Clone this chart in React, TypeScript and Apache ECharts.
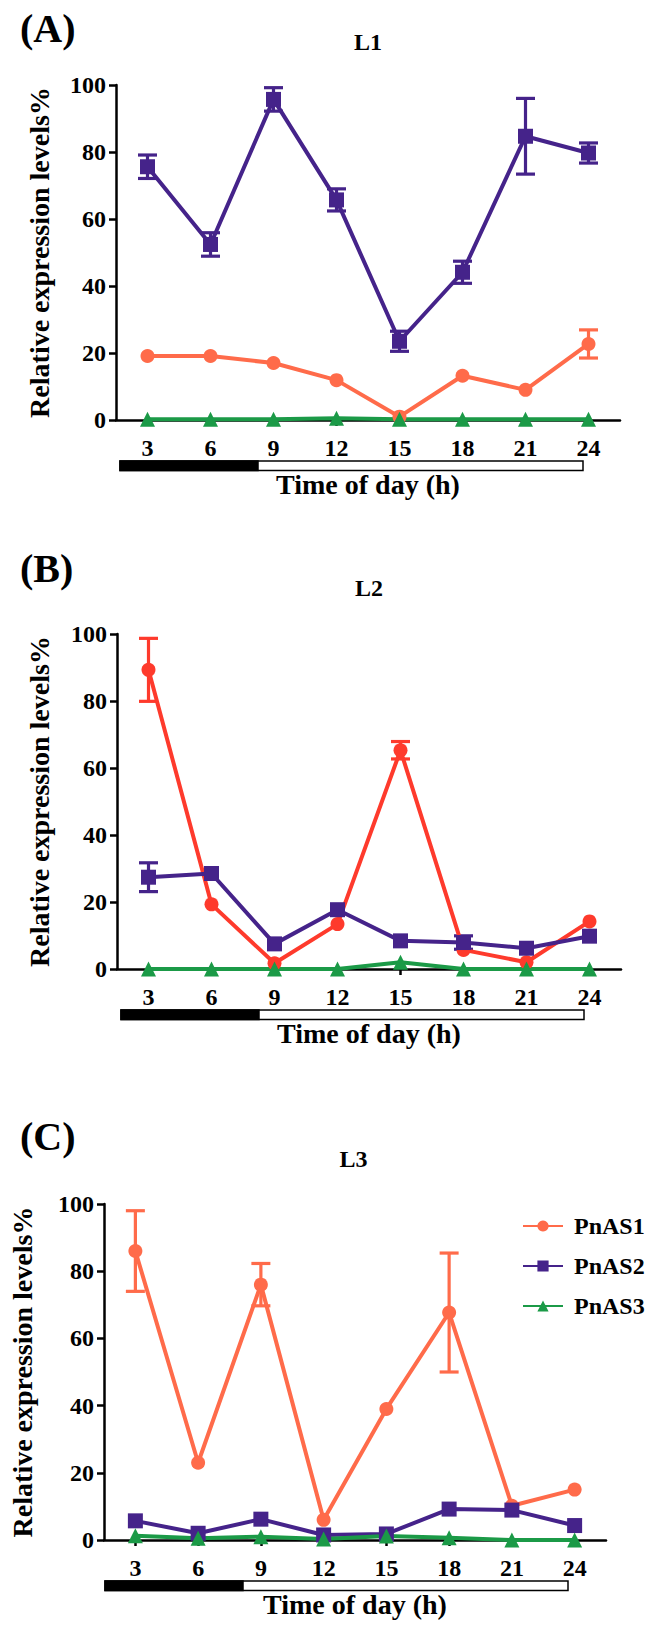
import React, { useEffect, useRef } from "react";
import * as echarts from "echarts";

const hours = ["3", "6", "9", "12", "15", "18", "21", "24"];
const seriesNames = ["PnAS1", "PnAS2", "PnAS3"];
const panelLetters = ["(A)", "(B)", "(C)"];
const panelTitles = ["L1", "L2", "L3"];
const yTitle = "Relative expression levels%";
const xTitle = "Time of day (h)";

// Panel A (L1)
const l1PnAS1 = [19.1, 19.1, 17.0, 11.9, 1.0, 13.2, 9.0, 22.7];
const l1PnAS1Err = [0, 0, 0, 0, 0, 0, 0, 4.2];
const l1PnAS2 = [75.6, 52.4, 95.7, 65.7, 23.5, 44.1, 84.7, 79.7];
const l1PnAS2Err = [3.5, 3.5, 3.5, 3.3, 3.0, 3.3, 11.3, 3.0];
const l1PnAS3 = [0.2, 0.2, 0.2, 0.5, 0.2, 0.2, 0.2, 0.2];

// Panel B (L2)
const l2PnAS1 = [89.3, 19.3, 1.7, 13.4, 65.3, 5.7, 2.0, 14.2];
const l2PnAS1Err = [9.4, 0, 0, 0, 2.6, 0, 0, 0];
const l2PnAS2 = [27.4, 28.5, 7.5, 17.7, 8.4, 7.9, 6.2, 9.8];
const l2PnAS2Err = [4.3, 0, 0, 0, 0, 2.0, 0, 0];
const l2PnAS3 = [0, 0, 0, 0, 2.0, 0, 0, 0];

// Panel C (L3)
const l3PnAS1 = [86.0, 23.0, 76.0, 6.0, 39.0, 67.7, 10.2, 15.0];
const l3PnAS1Err = [12.0, 0, 6.3, 0, 0, 17.7, 0, 0];
const l3PnAS2 = [5.7, 2.0, 6.2, 1.5, 1.8, 9.2, 8.9, 4.3];
const l3PnAS3 = [1.3, 0.5, 1.0, 0.3, 1.2, 0.7, 0, 0];

const FONT = "Times New Roman, Liberation Serif, serif";
const SALMON = "#FF6B4A";
const RED = "#FE3A2C";
const PURPLE = "#45238A";
const GREEN = "#1B9A47";

// layout (pixels)
const grids = [
  { left: 116, top: 85, width: 504, height: 335, yGap: 63 },
  { left: 117, top: 634, width: 504, height: 335, yGap: 64 },
  { left: 101, top: 1204, width: 505, height: 336, yGap: 68 },
];
const letterPos = [
  { x: 20, y: 28 },
  { x: 20, y: 568 },
  { x: 20, y: 1136 },
];
const titleY = [42, 588, 1159];

function lineSeries(name: string, data: number[], color: string, symbol: string, gi: number, size: number) {
  return {
    type: "line",
    name,
    xAxisIndex: gi,
    yAxisIndex: gi,
    data,
    symbol,
    symbolSize: size,
    showAllSymbol: true,
    lineStyle: { color, width: 4 },
    itemStyle: { color },
    z: 4,
  };
}

function errSeries(name: string, means: number[], errs: number[], color: string, gi: number) {
  const data = means.map((m, i) => [i, m, errs[i]]).filter((d) => d[2] > 0);
  return {
    type: "custom",
    name,
    xAxisIndex: gi,
    yAxisIndex: gi,
    data,
    silent: true,
    z: 3,
    encode: { x: 0, y: 1 },
    renderItem: (_p: any, api: any) => {
      const i = api.value(0);
      const m = api.value(1);
      const e = api.value(2);
      const top = api.coord([i, m + e]);
      const bot = api.coord([i, m - e]);
      const half = 9.5;
      const st = { stroke: color, lineWidth: 3.2 };
      return {
        type: "group",
        children: [
          { type: "line", shape: { x1: top[0], y1: top[1], x2: bot[0], y2: bot[1] }, style: st },
          { type: "line", shape: { x1: top[0] - half, y1: top[1], x2: top[0] + half, y2: top[1] }, style: st },
          { type: "line", shape: { x1: bot[0] - half, y1: bot[1], x2: bot[0] + half, y2: bot[1] }, style: st },
        ],
      };
    },
  };
}

export default function App() {
  const ref = useRef<HTMLDivElement>(null);
  useEffect(() => {
    if (!ref.current) return;
    const chart = echarts.init(ref.current, null, { renderer: "svg" });
    const axisLine = { show: true, lineStyle: { color: "#000", width: 2.5 } };
    const labelStyle = { fontSize: 24, fontWeight: "bold", fontFamily: FONT, color: "#000" };
    const nameStyle = { fontSize: 28, fontWeight: "bold", fontFamily: FONT, color: "#000" };

    const xAxes = grids.map((g, gi) => ({
      type: "category",
      gridIndex: gi,
      data: hours,
      boundaryGap: true,
      axisLine,
      axisTick: { show: true, alignWithLabel: true, length: 6, lineStyle: { color: "#000", width: 2.5 } },
      axisLabel: { ...labelStyle, margin: 16, interval: 0 },
      splitLine: { show: false },
      name: xTitle,
      nameLocation: "middle",
      nameGap: 50,
      nameTextStyle: nameStyle,
    }));
    const yAxes = grids.map((g, gi) => ({
      type: "value",
      gridIndex: gi,
      min: 0,
      max: 100,
      interval: 20,
      axisLine,
      axisTick: { show: true, length: 7, lineStyle: { color: "#000", width: 2.5 } },
      axisLabel: { ...labelStyle, margin: 10 },
      splitLine: { show: false },
      name: yTitle,
      nameLocation: "middle",
      nameRotate: 90,
      nameGap: g.yGap,
      nameTextStyle: nameStyle,
    }));

    const series: any[] = [
      // Panel A
      errSeries("PnAS1 SD L1", l1PnAS1, l1PnAS1Err, SALMON, 0),
      lineSeries("PnAS1", l1PnAS1, SALMON, "circle", 0, 14),
      errSeries("PnAS2 SD L1", l1PnAS2, l1PnAS2Err, PURPLE, 0),
      lineSeries("PnAS2", l1PnAS2, PURPLE, "rect", 0, 15),
      lineSeries("PnAS3", l1PnAS3, GREEN, "triangle", 0, 15),
      // Panel B
      errSeries("PnAS1 SD L2", l2PnAS1, l2PnAS1Err, RED, 1),
      lineSeries("PnAS1 L2", l2PnAS1, RED, "circle", 1, 14),
      errSeries("PnAS2 SD L2", l2PnAS2, l2PnAS2Err, PURPLE, 1),
      lineSeries("PnAS2 L2", l2PnAS2, PURPLE, "rect", 1, 15),
      lineSeries("PnAS3 L2", l2PnAS3, GREEN, "triangle", 1, 15),
      // Panel C
      errSeries("PnAS1 SD L3", l3PnAS1, l3PnAS1Err, SALMON, 2),
      lineSeries("PnAS1 L3", l3PnAS1, SALMON, "circle", 2, 14),
      lineSeries("PnAS2 L3", l3PnAS2, PURPLE, "rect", 2, 15),
      lineSeries("PnAS3 L3", l3PnAS3, GREEN, "triangle", 2, 15),
    ];

    const graphics: any[] = [];
    grids.forEach((g, gi) => {
      const axisY = g.top + g.height;
      graphics.push({
        type: "text",
        x: letterPos[gi].x,
        y: letterPos[gi].y,
        style: {
          text: panelLetters[gi],
          fontSize: 40,
          fontWeight: "bold",
          fontFamily: FONT,
          fill: "#000",
          textAlign: "left",
          textVerticalAlign: "middle",
        },
      });
      graphics.push({
        type: "text",
        x: g.left + g.width / 2,
        y: titleY[gi],
        style: {
          text: panelTitles[gi],
          fontSize: 24,
          fontWeight: "bold",
          fontFamily: FONT,
          fill: "#000",
          textAlign: "center",
          textVerticalAlign: "middle",
        },
      });
      // day/night bar
      graphics.push({
        type: "rect",
        shape: { x: g.left + 4, y: axisY + 41, width: 463, height: 9.5 },
        style: { fill: "#fff", stroke: "#000", lineWidth: 1.5 },
      });
      graphics.push({
        type: "rect",
        shape: { x: g.left + 4, y: axisY + 41, width: 138, height: 9.5 },
        style: { fill: "#000", stroke: "#000", lineWidth: 1.5 },
      });
    });

    chart.setOption({
      animation: false,
      backgroundColor: "#fff",
      textStyle: { fontFamily: FONT, fontWeight: "bold", color: "#000" },
      grid: grids.map((g) => ({ left: g.left, top: g.top, width: g.width, height: g.height, containLabel: false })),
      xAxis: xAxes,
      yAxis: yAxes,
      legend: {
        data: seriesNames,
        orient: "vertical",
        left: 517,
        top: 1209,
        itemWidth: 40,
        itemHeight: 14,
        itemGap: 16,
        textStyle: { fontSize: 24, fontWeight: "bold", fontFamily: FONT, color: "#000", padding: [0, 0, 0, 6] },
        selectedMode: false,
      },
      graphic: graphics,
      series,
    });
    return () => chart.dispose();
  }, []);
  return <div ref={ref} style={{ position: "absolute", left: 0, top: 0, width: 651, height: 1628, fontFamily: FONT }} />;
}
